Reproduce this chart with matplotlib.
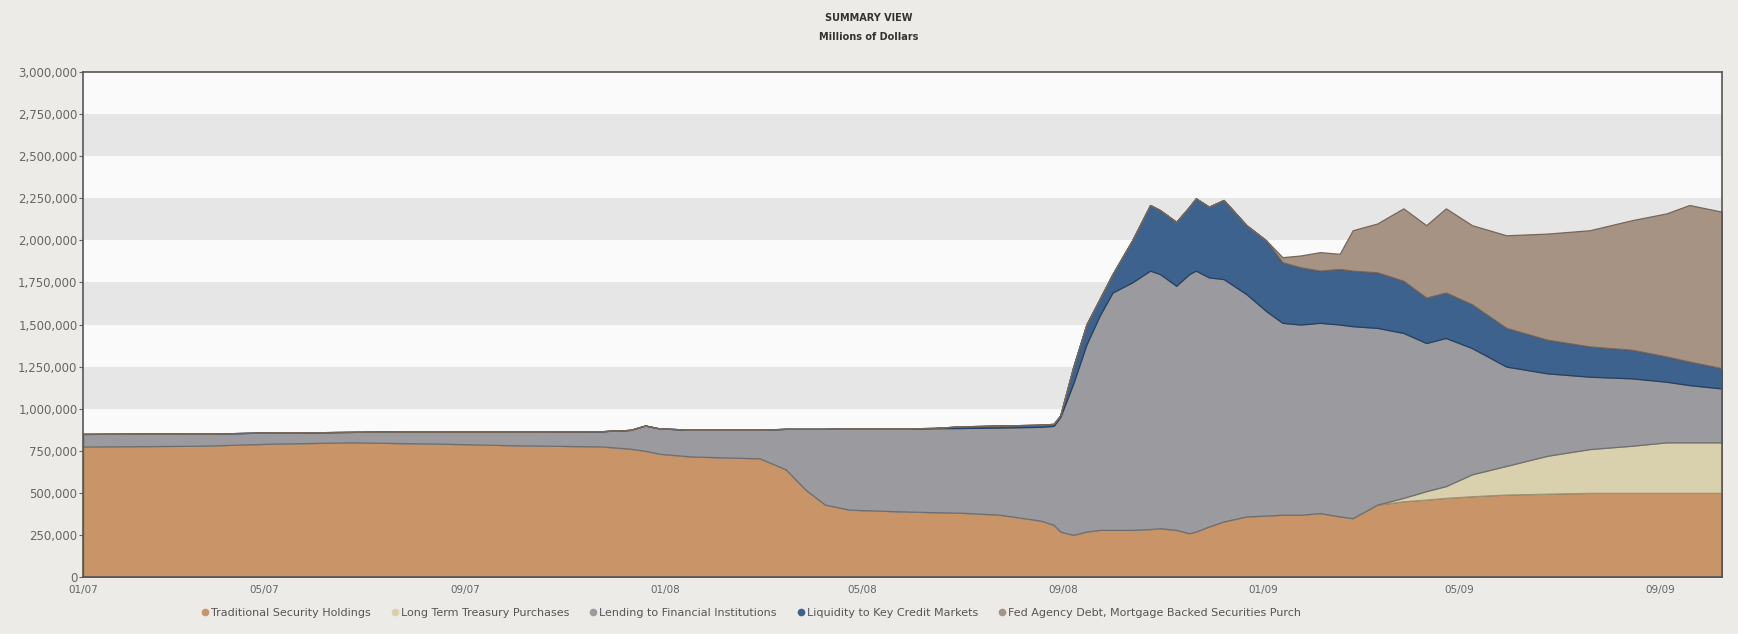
import matplotlib
matplotlib.use("Agg")
import matplotlib.pyplot as plt
from matplotlib.lines import Line2D
from matplotlib.ticker import FuncFormatter, MultipleLocator
import pandas as pd

# weekly-ish readings, millions of dollars
dates = pd.to_datetime([
    "2007-01-10", "2007-03-23", "2007-05-05", "2007-06-23", "2007-08-17", "2007-10-05",
    "2007-11-23", "2007-12-11", "2007-12-20", "2007-12-29", "2008-01-17", "2008-02-28",
    "2008-03-15", "2008-03-27", "2008-04-08", "2008-04-23", "2008-05-24", "2008-06-14",
    "2008-06-30", "2008-07-24", "2008-08-18", "2008-08-26", "2008-08-30", "2008-09-07",
    "2008-09-15", "2008-09-23", "2008-10-01", "2008-10-13", "2008-10-24", "2008-10-30",
    "2008-11-09", "2008-11-17", "2008-11-21", "2008-11-29", "2008-12-08", "2008-12-22",
    "2009-01-03", "2009-01-13", "2009-01-24", "2009-02-05", "2009-02-17", "2009-02-25",
    "2009-03-12", "2009-03-28", "2009-04-11", "2009-04-23", "2009-05-09", "2009-05-30",
    "2009-06-24", "2009-07-20", "2009-08-15", "2009-09-05", "2009-09-19", "2009-10-09",
])

traditional = [
    775000, 780000, 792000, 800000, 792000, 782000, 776000, 762000, 750000, 732000,
    716000, 705000, 640000, 520000, 430000, 400000, 390000, 385000, 382000, 370000,
    335000, 310000, 270000, 250000, 270000, 280000, 280000, 280000, 285000, 290000,
    280000, 260000, 270000, 300000, 330000, 360000, 365000, 370000, 370000, 380000,
    360000, 350000, 430000, 450000, 460000, 470000, 480000, 490000, 495000, 500000,
    500000, 500000, 500000, 500000,
]
long_term_treasury = [
    0, 0, 0, 0, 0, 0, 0, 0, 0, 0,
    0, 0, 0, 0, 0, 0, 0, 0, 0, 0,
    0, 0, 0, 0, 0, 0, 0, 0, 0, 0,
    0, 0, 0, 0, 0, 0, 0, 0, 0, 0,
    0, 0, 0, 20000, 50000, 70000, 130000, 170000, 225000, 260000,
    280000, 300000, 300000, 300000,
]
lending = [
    75000, 72000, 66000, 62000, 73000, 83000, 90000, 112000, 150000, 150000,
    160000, 171000, 240000, 360000, 450000, 482000, 492000, 499000, 503000, 518000,
    557000, 588000, 680000, 900000, 1110000, 1270000, 1410000, 1470000, 1535000, 1510000,
    1450000, 1540000, 1550000, 1480000, 1440000, 1320000, 1215000, 1140000, 1130000, 1130000,
    1140000, 1140000, 1050000, 980000, 880000, 880000, 750000, 590000, 490000, 430000,
    400000, 360000, 340000, 320000,
]
liquidity = [
    0, 0, 0, 0, 0, 0, 0, 0, 0, 0,
    0, 0, 0, 0, 0, 0, 0, 2000, 10000, 12000,
    13000, 12000, 10000, 100000, 120000, 100000, 110000, 250000, 390000, 380000,
    380000, 400000, 430000, 420000, 470000, 410000, 420000, 360000, 340000, 310000,
    330000, 330000, 330000, 310000, 270000, 270000, 260000, 230000, 200000, 180000,
    170000, 150000, 140000, 120000,
]
agency_mbs = [
    0, 0, 0, 0, 0, 0, 0, 0, 0, 0,
    0, 0, 0, 0, 0, 0, 0, 0, 0, 0,
    0, 0, 0, 0, 0, 0, 0, 0, 0, 0,
    0, 0, 0, 0, 0, 0, 0, 30000, 70000, 110000,
    90000, 240000, 290000, 430000, 430000, 500000, 470000, 550000, 630000, 690000,
    770000, 850000, 930000, 930000,
]

series_labels = [
    "Traditional Security Holdings",
    "Long Term Treasury Purchases",
    "Lending to Financial Institutions",
    "Liquidity to Key Credit Markets",
    "Fed Agency Debt, Mortgage Backed Securities Purch",
]
colors = ["#c99467", "#d9d1ae", "#9b9b9f", "#3d628e", "#a69383"]
edges = ["#8a6444", "#9c9478", "#6e6e72", "#26405f", "#75665a"]

tick_dates = pd.to_datetime([
    "2007-01-10", "2007-05-01", "2007-09-01", "2008-01-01", "2008-05-01",
    "2008-09-01", "2009-01-01", "2009-05-01", "2009-09-01",
])
tick_labels = ["01/07", "05/07", "09/07", "01/08", "05/08", "09/08", "01/09", "05/09", "09/09"]

bg = "#ecebe8"
fig = plt.figure(figsize=(17.38, 6.34), dpi=100, facecolor=bg)
ax = fig.add_axes([0.0478, 0.0899, 0.9430, 0.7965])
ax.set_facecolor("#fafafa")

# alternating stripes
for lo in range(0, 3000000, 500000):
    ax.axhspan(lo, lo + 250000, color="#e6e6e6", zorder=0, lw=0)

polys = ax.stackplot(dates, traditional, long_term_treasury, lending, liquidity,
                     agency_mbs, colors=colors, zorder=2)
for p, ec in zip(polys, edges):
    p.set_edgecolor(ec)
    p.set_linewidth(0.9)

ax.set_xlim(dates[0], dates[-1])
ax.set_ylim(0, 3000000)
ax.yaxis.set_major_locator(MultipleLocator(250000))
ax.yaxis.set_major_formatter(FuncFormatter(lambda v, p: f"{int(v):,}"))
ax.set_xticks(tick_dates)
ax.set_xticklabels(tick_labels)
ax.tick_params(axis="y", labelsize=8.5, colors="#666666", length=3, width=0.8, pad=1)
ax.tick_params(axis="x", labelsize=7.5, colors="#666666", length=0, pad=6)
for s in ax.spines.values():
    s.set_color("#555555")
    s.set_linewidth(1.2)

fig.text(0.5, 0.972, "SUMMARY VIEW", ha="center", va="center",
         fontsize=7, fontweight="bold", color="#333333")
fig.text(0.5, 0.942, "Millions of Dollars", ha="center", va="center",
         fontsize=7, fontweight="bold", color="#333333")

handles = [Line2D([], [], ls="none", marker="o", markersize=4.5, color=c) for c in colors]
fig.legend(handles, series_labels, loc="center", bbox_to_anchor=(0.432, 0.033), ncol=5,
           frameon=False, fontsize=8, labelcolor="#555555", handletextpad=0.1,
           columnspacing=1.8, handlelength=0.8)

fig.savefig("out.png", dpi=100, facecolor=bg)
